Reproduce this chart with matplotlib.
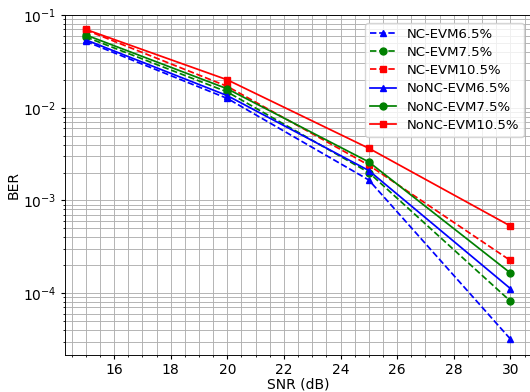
import matplotlib as mpl
mpl.use('Agg')
import matplotlib.pyplot as plt

snr = [15, 20, 25, 30]

# BER curves
nc_evm65 = [0.052, 0.0126, 0.00166, 3.2e-5]
nc_evm75 = [0.058, 0.0148, 0.0020, 8.2e-5]
nc_evm105 = [0.069, 0.0170, 0.0024, 2.25e-4]
nonc_evm65 = [0.054, 0.0135, 0.0021, 1.12e-4]
nonc_evm75 = [0.061, 0.0160, 0.0026, 1.65e-4]
nonc_evm105 = [0.070, 0.0200, 0.00365, 5.3e-4]

s = 0.83  # original looks like a scaled-down export
plt.rcParams['xtick.major.size'] = 3.5 * s
plt.rcParams['ytick.major.size'] = 3.5 * s
plt.rcParams['xtick.minor.size'] = 2 * s
plt.rcParams['ytick.minor.size'] = 2 * s
plt.rcParams['xtick.major.pad'] = 3.5 * s
plt.rcParams['ytick.major.pad'] = 3.5 * s
plt.rcParams['lines.linewidth'] = 1.5 * s
plt.rcParams['lines.markersize'] = 6 * s
plt.rcParams['grid.linewidth'] = 0.8 * s
plt.rcParams['axes.linewidth'] = 0.8 * s

fig = plt.figure(figsize=(5.3, 3.92), dpi=100)
plt.subplots_adjust(left=0.1217, right=1.003, top=0.9617, bottom=0.0944)

plt.semilogy(snr, nc_evm65, 'b--^', label='NC-EVM6.5%')
plt.semilogy(snr, nc_evm75, 'g--o', label='NC-EVM7.5%')
plt.semilogy(snr, nc_evm105, 'r--s', label='NC-EVM10.5%')
plt.semilogy(snr, nonc_evm65, 'b-^', label='NoNC-EVM6.5%')
plt.semilogy(snr, nonc_evm75, 'g-o', label='NoNC-EVM7.5%')
plt.semilogy(snr, nonc_evm105, 'r-s', label='NoNC-EVM10.5%')

plt.xlim(14.25, 30.75)
plt.ylim(2.15e-5, 1e-1)
plt.minorticks_on()
plt.grid(True, which='both')
plt.xlabel('SNR (dB)', labelpad=0.5)
plt.ylabel('BER', labelpad=2)
plt.legend(loc='upper right', fontsize=9.5, labelspacing=0.4,
           borderpad=0.35, borderaxespad=0.6)
plt.savefig('out.png', dpi=100)
